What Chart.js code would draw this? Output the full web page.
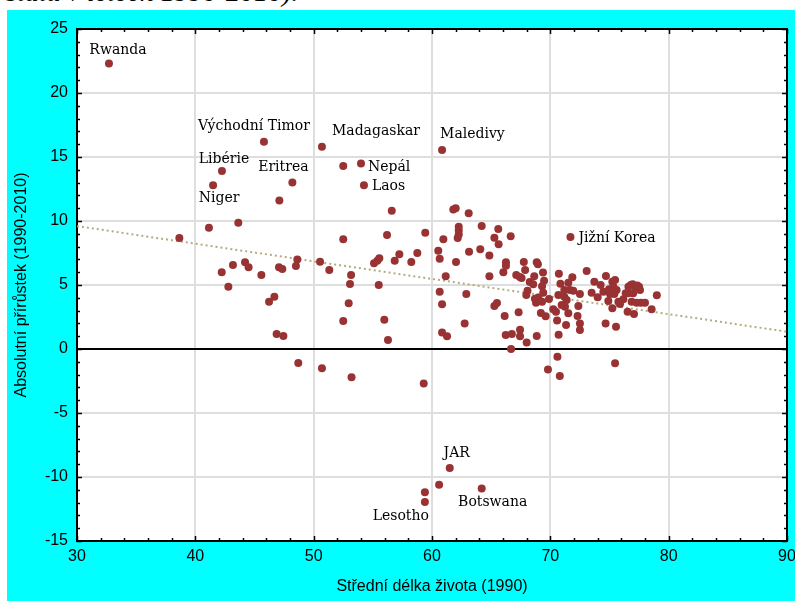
<!DOCTYPE html>
<html>
<head>
<meta charset="utf-8">
<title>Střední délka života a absolutní přírůstek</title>
<style>
  body { margin: 0; background: #fff; width: 795px; height: 601px; overflow: hidden; position: relative; }
  .caption { position: absolute; left: 6px; top: -24px; line-height: 28px; font: italic 28px "Liberation Serif", serif; white-space: nowrap; }
  .frame { position: absolute; left: 7px; top: 10px; width: 788px; height: 591px; background: #00ffff; }
</style>
</head>
<body>
<div class="caption">státu v letech 1990-2010).</div>
<div class="frame"><canvas id="chart" width="788" height="591"></canvas></div>

<script src="https://cdn.jsdelivr.net/npm/chart.js@4"></script>
<script>
  // labelled countries first, same order as pointNames
  const pointNames = ['Rwanda', 'Východní Timor', 'Madagaskar', 'Libérie', 'Niger', 'Eritrea',
    'Nepál', 'Laos', 'Maledivy', 'Jižní Korea', 'JAR', 'Botswana', 'Lesotho'];

  const lifeExp = [
    32.7, 45.8, 50.7, 42.25, 41.5, 48.2, 54.0, 54.25, 60.85, 71.7, 61.5, 64.2, 59.4,
    47.1, 52.5, 56.6, 61.8, 62.0, 63.1,
    38.65, 41.15, 43.63, 42.23, 43.18, 44.2, 44.5, 42.79, 45.58, 47.07, 47.35, 48.62, 48.5, 50.54,
    46.68, 46.23, 46.87, 47.44, 48.7, 50.7, 53.2, 59.3,
    52.5, 56.2, 59.43, 51.32, 53.16, 53.07, 52.96, 52.5, 55.1, 55.38, 55.55, 55.5, 56.85, 57.24,
    58.25, 58.76, 55.97, 56.28,
    60.96, 60.53, 60.65, 61.16, 62.03, 62.17, 62.26, 62.26, 62.26, 60.65, 60.85, 60.85, 61.27,
    62.9, 62.76, 63.13, 64.08, 64.2, 64.85, 65.6, 65.27, 65.63, 66.65, 64.85, 65.27, 65.49, 66.14,
    67.32, 66.23, 66.75, 67.44, 67.44, 68.0, 66.68, 68.85, 66.03, 66.25, 66.25, 67.12, 67.42, 67.57,
    67.76, 67.87, 68.26, 68.64, 68.55, 68.85, 68.95, 69.38, 69.47, 69.3, 68.07, 67.97, 68.7, 68.98,
    68.79, 69.4, 69.3, 69.2, 69.6, 69.89,
    70.25, 70.48, 70.57, 70.72, 70.85, 70.7, 70.6, 69.8, 70.8, 71.52, 71.86, 73.07, 71.18, 71.66,
    71.94, 72.5, 70.68, 71.18, 71.38, 70.96, 71.24, 71.52, 72.37, 72.3, 71.33, 72.5, 72.5,
    73.72, 74.25, 74.7, 73.49, 74.0, 74.48, 74.96, 75.24, 75.47, 75.33, 75.6, 75.04, 75.41, 74.9,
    75.24, 74.67, 75.55, 75.47, 75.75, 76.17, 76.37, 76.6, 76.8, 77.15, 77.5, 76.6, 77.0, 77.58,
    76.87, 77.3, 77.66, 78.0, 76.53, 77.07, 78.56, 79.0, 75.89, 76.95, 77.35,
    60.6, 59.4
  ];

  const growth = [
    22.3, 16.2, 15.8, 13.9, 12.8, 13.0, 14.5, 12.8, 15.55, 8.75, -9.3, -10.9, -11.95,
    11.6, 14.3, 10.8, 10.9, 11.0, 10.6,
    8.67, 9.48, 9.87, 5.99, 6.56, 6.77, 6.38, 4.87, 5.78, 6.38, 6.25, 7.0, 6.48, 6.82,
    4.09, 3.7, 1.17, 1.02, -1.1, -1.5, -2.2, -2.7,
    8.57, 8.9, 9.09, 6.17, 5.78, 5.08, 3.57, 2.19, 6.7, 6.9, 7.09, 5.0, 6.9, 7.4,
    6.8, 7.5, 2.29, 0.7,
    8.57, 7.68, 7.06, 5.68, 6.8, 8.67, 9.55, 9.25, 8.95, 4.48, 3.49, 1.28, 1.0,
    4.3, 2.0, 7.6, 7.79, 9.6, 7.3, 9.38, 8.7, 8.18, 8.8, 5.69, 3.36, 3.6, 2.58,
    2.88, 1.09, 1.17, 1.5, 0.99, 0.5, 0.0, 1.02, 6.0, 6.77, 6.51, 5.78, 5.62, 5.55,
    6.8, 6.17, 5.23, 5.69, 5.06, 6.78, 6.62, 5.98, 5.34, 4.9, 4.55, 4.22, 3.92, 4.02,
    3.62, 4.4, 3.7, 2.82, 2.56, 3.9,
    3.11, 2.91, 2.22, 5.88, 5.1, 1.12, -0.6, -1.6, -2.1, 5.18, 5.6, 6.1, 4.61, 4.61,
    4.56, 4.3, 4.22, 4.09, 3.83, 3.44, 3.3, 2.79, 3.36, 2.58, 1.88, 2.0, 1.48,
    5.26, 5.0, 5.7, 4.4, 4.04, 4.48, 4.66, 5.26, 5.39, 4.87, 4.61, 4.3, 4.3, 3.75,
    3.18, 2.0, 1.74, -1.12, 3.7, 3.88, 4.35, 4.87, 5.0, 4.87, 4.87, 4.35, 4.35, 4.61,
    3.7, 3.62, 3.62, 3.62, 2.91, 2.73, 3.1, 4.2, 3.52, 5.05, 4.97,
    -10.6, -11.2
  ];

  // regression line end points
  const trendX = [30, 90];
  const trendY = [9.6, 1.35];

  // label placement next to its point: [align, dx, dy]
  const labelPlace = [
    ['center', 9, -13], ['center', -10, -15], ['left', 10, -15], ['center', 2, -12],
    ['center', 6, 13], ['center', -9, -15], ['left', 7, 4], ['left', 8, 1],
    ['left', -2, -16], ['left', 8, 1], ['center', 7, -15], ['center', 11, 14], ['right', 4, 14]
  ];

  const axisFont = "'Liberation Sans', Arial, sans-serif";

  const decor = {
    id: 'decor',
    beforeDraw(chart) {
      const { ctx, chartArea: a } = chart;
      ctx.save();
      ctx.fillStyle = '#fff';
      ctx.fillRect(a.left, a.top, a.right - a.left, a.bottom - a.top);
      ctx.restore();
    },
    beforeDatasetsDraw(chart) {
      const { ctx, chartArea: a, scales: { x, y } } = chart;
      ctx.save();
      ctx.strokeStyle = '#000';
      ctx.lineWidth = 1.5;
      ctx.beginPath();
      for (let v = x.min; v <= x.max; v += 2) {
        const px = Math.round(x.getPixelForValue(v)) + 0.5;
        const len = v % 10 === 0 ? 5 : 3;
        ctx.moveTo(px, a.top); ctx.lineTo(px, a.top + len);
        ctx.moveTo(px, a.bottom); ctx.lineTo(px, a.bottom - len);
      }
      for (let v = y.min; v <= y.max; v += 1) {
        const py = Math.round(y.getPixelForValue(v)) + 0.5;
        const len = v % 5 === 0 ? 5 : 3;
        ctx.moveTo(a.left, py); ctx.lineTo(a.left + len, py);
        ctx.moveTo(a.right, py); ctx.lineTo(a.right - len, py);
      }
      ctx.stroke();
      ctx.lineWidth = 2;
      ctx.strokeRect(a.left, a.top, a.right - a.left, a.bottom - a.top);
      ctx.restore();
    },
    afterDatasetsDraw(chart) {
      const { ctx, scales: { x, y } } = chart;
      ctx.save();
      ctx.fillStyle = '#000';
      ctx.font = "14px 'DejaVu Serif', serif";
      ctx.textBaseline = 'middle';
      pointNames.forEach((name, i) => {
        const [align, dx, dy] = labelPlace[i];
        ctx.textAlign = align;
        ctx.fillText(name, x.getPixelForValue(lifeExp[i]) + dx, y.getPixelForValue(growth[i]) + dy);
      });
      ctx.restore();
    }
  };

  new Chart(document.getElementById('chart'), {
    type: 'scatter',
    data: {
      datasets: [
        {
          label: 'země',
          data: lifeExp.map((v, i) => ({ x: v, y: growth[i] })),
          backgroundColor: '#993333',
          borderWidth: 0,
          pointRadius: 4,
          order: 1,
        },
        {
          type: 'line',
          label: 'trend',
          data: trendX.map((v, i) => ({ x: v, y: trendY[i] })),
          borderColor: '#b3ab7f',
          borderWidth: 2,
          borderDash: [2, 3],
          pointRadius: 0,
          fill: false,
          order: 2,
        },
      ],
    },
    options: {
      responsive: false,
      animation: false,
      layout: { padding: { top: 19, right: 8, left: 0, bottom: 0 } },
      plugins: { legend: { display: false }, tooltip: { enabled: false } },
      scales: {
        x: {
          type: 'linear',
          min: 30,
          max: 90,
          ticks: { stepSize: 10, padding: 6, color: '#000', maxRotation: 0, font: { family: axisFont, size: 16 } },
          grid: { color: '#dedede', lineWidth: 2, drawTicks: false },
          border: { display: false },
          title: {
            display: true,
            text: 'Střední délka života (1990)',
            color: '#000',
            font: { family: axisFont, size: 16 },
            padding: { top: 0, bottom: 5 },
          },
          afterFit(s) { s.height = 60; s.paddingLeft = 0; s.paddingRight = 0; },
        },
        y: {
          min: -15,
          max: 25,
          ticks: { stepSize: 5, padding: 9, color: '#000', font: { family: axisFont, size: 16 } },
          grid: {
            color: (c) => (c.tick && c.tick.value === 0 ? '#000' : '#dedede'),
            lineWidth: 2,
            drawTicks: false,
          },
          border: { display: false },
          title: {
            display: true,
            text: 'Absolutní přírůstek (1990-2010)',
            color: '#000',
            font: { family: axisFont, size: 16 },
            padding: { top: 5, bottom: 0 },
          },
          afterFit(s) { s.width = 70; s.paddingTop = 0; s.paddingBottom = 0; },
        },
      },
    },
    plugins: [decor],
  });
</script>
</body>
</html>
